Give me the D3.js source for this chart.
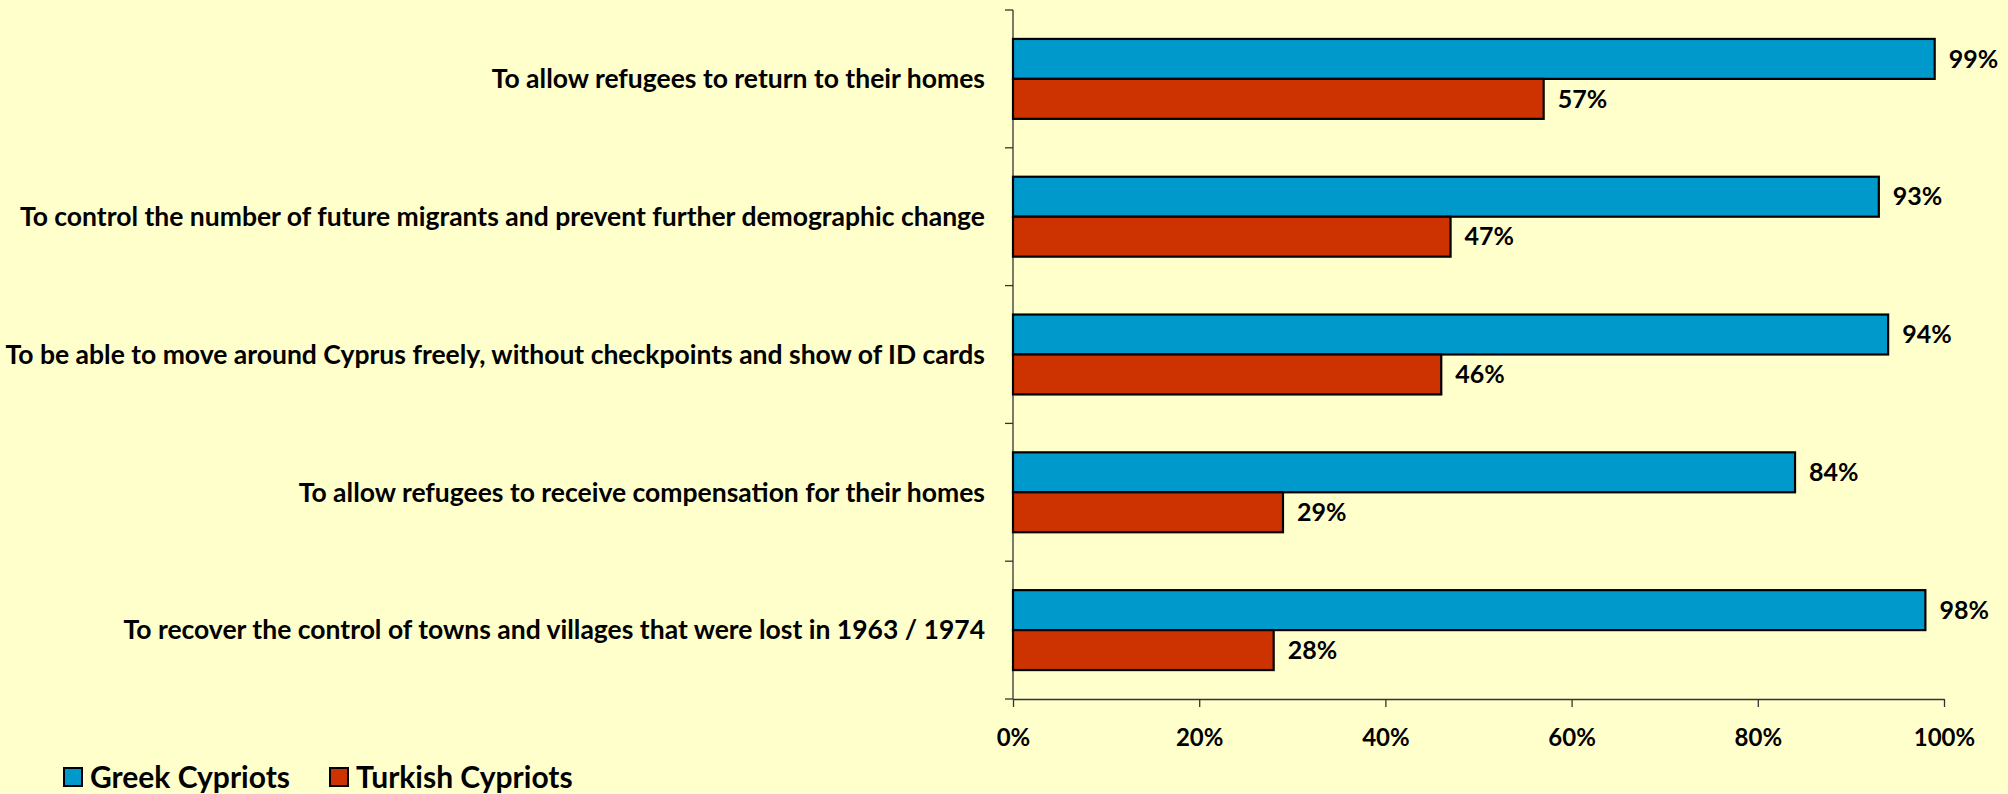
<!DOCTYPE html>
<html>
<head>
<meta charset="UTF-8" />
<title>Cyprus survey - bar chart</title>
<script type="text/javascript" src="https://cdn.jsdelivr.net/npm/d3@7/dist/d3.min.js"></script>
<style>
  body { margin: 0; background: #FFFFCC; }
  svg text { font-family: Lato, "Open Sans", sans-serif; font-weight: bold; fill: #000; }
</style>
</head>
<body>
<div id="chart"></div>
<script type="text/javascript">
	var categories = [
		"To allow refugees to return to their homes",
		"To control the number of future migrants and prevent further demographic change",
		"To be able to move around Cyprus freely, without checkpoints and show of ID cards",
		"To allow refugees to receive compensation for their homes",
		"To recover the control of towns and villages that were lost in 1963 / 1974"
	];
	var seriesNames = ["Greek Cypriots", "Turkish Cypriots"];
	var greekValues = [99, 93, 94, 84, 98];
	var turkishValues = [57, 47, 46, 29, 28];
	var xTicks = [0, 20, 40, 60, 80, 100];

	var colors = ["#0099CC", "#CC3300"];
	var W = 2008, H = 794;
	var mLeft = 1013, mRight = 1944, mTop = 10, mBottom = 699;

	var svg = d3.select("#chart").append("svg").attr("width", W).attr("height", H);
	svg.append("rect").attr("width", W).attr("height", H).attr("fill", "#FFFFCC");

	var x = d3.scaleLinear().domain([0, 100]).range([mLeft, mRight]);
	var y = d3.scaleBand().domain(categories).range([mTop, mBottom])
		.paddingInner(0.42).paddingOuter(0.21);
	var ySub = d3.scaleBand().domain(seriesNames).range([0, y.bandwidth()]);

	// y axis line with ticks at the band boundaries
	var g = svg.append("g");
	var bounds = d3.range(categories.length + 1).map(function(i){ return mTop + i * y.step(); });
	g.selectAll("line.ytick").data(bounds).enter().append("line")
		.attr("x1", mLeft - 8).attr("x2", mLeft)
		.attr("y1", function(d){ return d; }).attr("y2", function(d){ return d; })
		.attr("stroke", "#333").attr("stroke-width", 1.3);
	g.append("line").attr("x1", mLeft).attr("x2", mLeft).attr("y1", mTop).attr("y2", mBottom)
		.attr("stroke", "#333").attr("stroke-width", 1.3);

	// x axis
	var xAxis = d3.axisBottom(x).tickValues(xTicks).tickSizeInner(8).tickSizeOuter(0).tickPadding(22)
		.tickFormat(function(d){ return d + "%"; });
	var ax = svg.append("g").attr("transform", "translate(0," + mBottom + ")").call(xAxis);
	ax.select(".domain").attr("stroke", "#333").attr("stroke-width", 1.3);
	ax.selectAll(".tick line").attr("stroke", "#333").attr("stroke-width", 1.3);
	ax.selectAll(".tick text").style("font-size", "24px").style("font-family", null).attr("fill", "#000");

	// category labels
	svg.selectAll("text.cat").data(categories).enter().append("text")
		.attr("class", "cat")
		.attr("x", mLeft - 28)
		.attr("y", function(d){ return y(d) + y.bandwidth() / 2; })
		.attr("dy", "0.35em")
		.attr("text-anchor", "end")
		.style("font-size", "26.5px")
		.text(function(d){ return d; });

	// bars and value labels
	var series = [greekValues, turkishValues];
	series.forEach(function(vals, si){
		var name = seriesNames[si];
		svg.selectAll("rect.s" + si).data(vals).enter().append("rect")
			.attr("class", "s" + si)
			.attr("x", x(0))
			.attr("y", function(d, i){ return y(categories[i]) + ySub(name); })
			.attr("width", function(d){ return x(d) - x(0); })
			.attr("height", ySub.bandwidth())
			.attr("fill", colors[si])
			.attr("stroke", "#000").attr("stroke-width", 2.2);
		svg.selectAll("text.v" + si).data(vals).enter().append("text")
			.attr("class", "v" + si)
			.attr("x", function(d){ return x(d) + 14; })
			.attr("y", function(d, i){ return y(categories[i]) + ySub(name) + ySub.bandwidth() / 2; })
			.attr("dy", "0.35em")
			.style("font-size", "25px")
			.text(function(d){ return d + "%"; });
	});

	// legend
	var leg = svg.append("g").attr("transform", "translate(64,768)");
	var offs = [0, 266];
	seriesNames.forEach(function(n, i){
		leg.append("rect").attr("x", offs[i]).attr("y", 0).attr("width", 18).attr("height", 18)
			.attr("fill", colors[i]).attr("stroke", "#000").attr("stroke-width", 2);
		leg.append("text").attr("x", offs[i] + 26).attr("y", 9).attr("dy", "0.36em")
			.style("font-size", "30px").text(n);
	});
</script>
</body>
</html>
